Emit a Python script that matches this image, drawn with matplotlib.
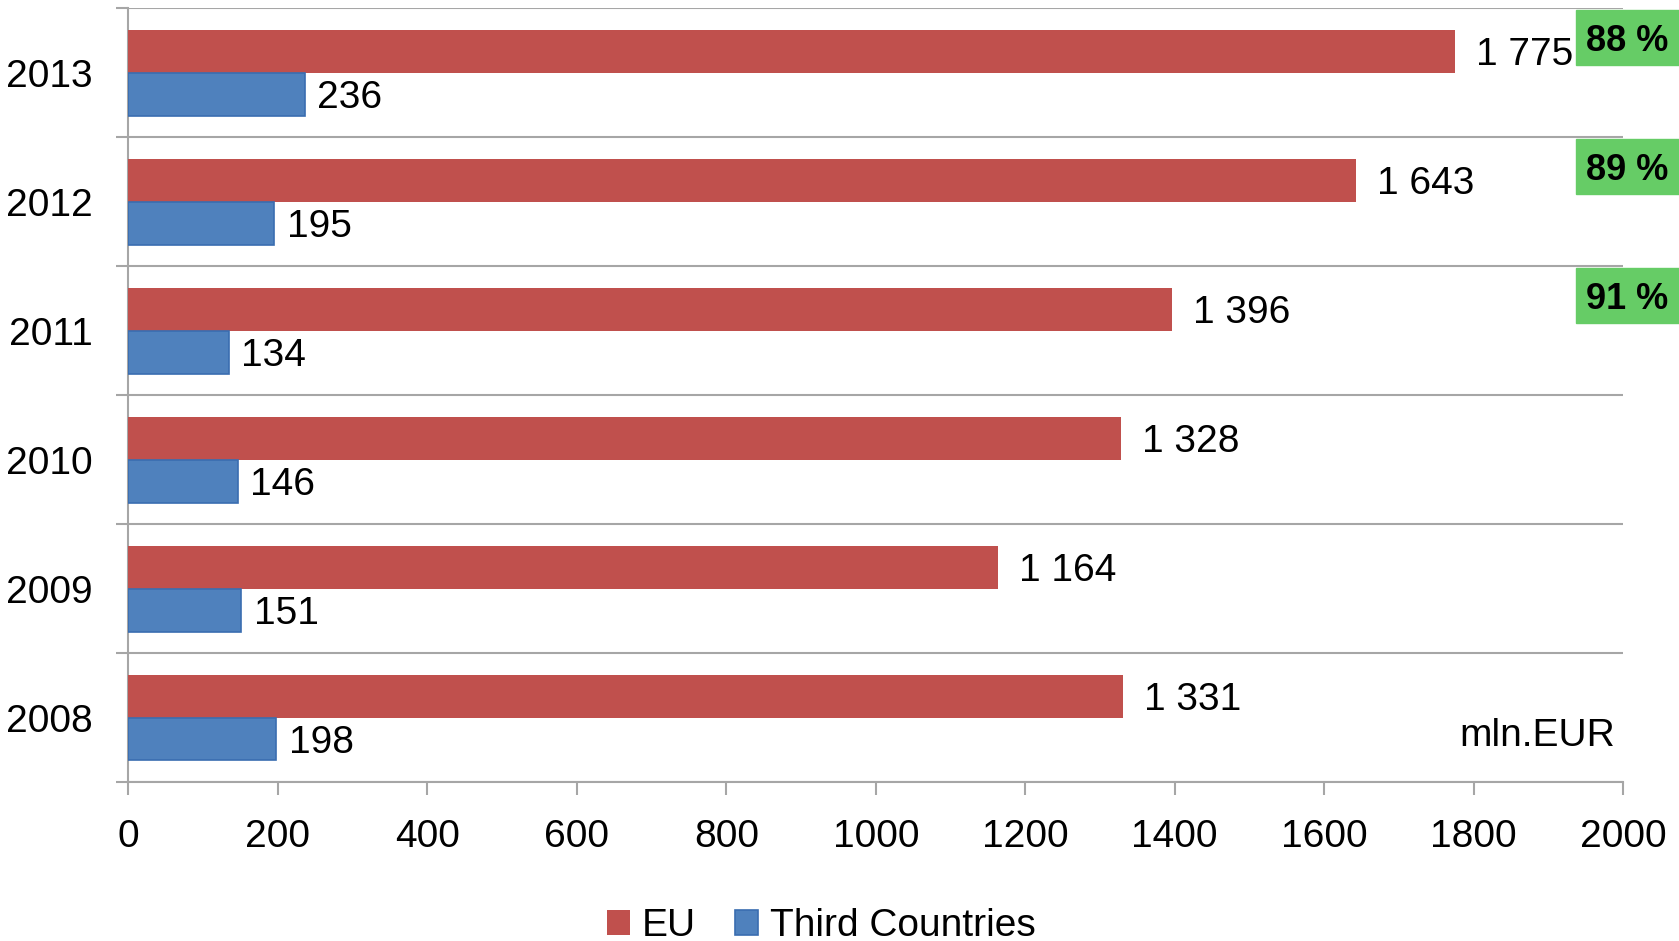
import matplotlib
matplotlib.use('Agg')
import matplotlib.pyplot as plt
from matplotlib import font_manager
from matplotlib.patches import Rectangle

# dados do gráfico
anos = ['2008', '2009', '2010', '2011', '2012', '2013']
eu = [1331, 1164, 1328, 1396, 1643, 1775]
terceiros = [198, 151, 146, 134, 195, 236]
# parcela da UE nos três últimos anos (de cima para baixo: 2013, 2012, 2011)
parcela_anos = ['2013', '2012', '2011']
parcela_txt = ['88 %', '89 %', '91 %']
x_ticks = [0, 200, 400, 600, 800, 1000, 1200, 1400, 1600, 1800, 2000]

nomes = {f.name for f in font_manager.fontManager.ttflist}
fonte = 'Liberation Sans Narrow' if 'Liberation Sans Narrow' in nomes else 'Liberation Sans'
plt.rcParams['font.family'] = [fonte, 'DejaVu Sans']

COR_EU = '#C0504D'
COR_TC = '#4F81BD'
CINZA = '#A6A6A6'
FS = 28

fig = plt.figure(figsize=(16.79, 9.41), dpi=100)
ax = fig.add_axes([0.0765, 0.169, 0.8902, 0.822])

pos = list(range(len(anos)))
h = 1 / 3
ax.barh([p + h / 2 for p in pos], eu, height=h, color=COR_EU, label='EU', zorder=3)
ax.barh([p - h / 2 for p in pos], terceiros, height=h, color=COR_TC,
        edgecolor='#3A6DB0', linewidth=1.2, label='Third Countries', zorder=3)

def fmt(v):
    return f'{v:,}'.replace(',', ' ')

for p, v in zip(pos, eu):
    ax.annotate(fmt(v), (v, p + h / 2), xytext=(15, 0), textcoords='offset points',
                va='center_baseline', ha='left', fontsize=FS)
for p, v in zip(pos, terceiros):
    ax.annotate(fmt(v), (v, p - h / 2), xytext=(9, 0), textcoords='offset points',
                va='center_baseline', ha='left', fontsize=FS)

ax.set_xlim(0, 2000)
ax.set_ylim(-0.5, len(anos) - 0.5)
ax.set_xticks(x_ticks)
ax.set_xticklabels([str(t) for t in x_ticks], fontsize=FS)
ax.set_yticks(pos)
ax.set_yticklabels(anos, fontsize=FS)
ax.set_yticks([p - 0.5 for p in range(len(anos) + 1)], minor=True)
ax.tick_params(axis='y', which='major', length=0, pad=26)
ax.tick_params(axis='y', which='minor', length=9, width=1.5, color=CINZA)
ax.tick_params(axis='x', length=9, width=1.5, color=CINZA, pad=18)
ax.grid(axis='y', which='minor', color=CINZA, linewidth=1.5, zorder=0)
for lado in ['top', 'right']:
    ax.spines[lado].set_visible(False)
for lado in ['left', 'bottom']:
    ax.spines[lado].set_color(CINZA)
    ax.spines[lado].set_linewidth(1.5)

ax.text(0.9947, 0.0595, 'mln.EUR', transform=ax.transAxes, ha='right', va='center',
        fontsize=FS)

# caixas verdes com a parcela
for ano, txt in zip(parcela_anos, parcela_txt):
    i = anos.index(ano)
    _, y_top = fig.transFigure.inverted().transform(ax.transData.transform((0, i + 0.5)))
    alt = 55 / 941
    y0 = y_top - 2 / 941 - alt
    fig.patches.append(Rectangle((1576 / 1679, y0), 103 / 1679, alt,
                                 transform=fig.transFigure, color='#66CC66', zorder=5))
    fig.text(1627 / 1679, y0 + alt / 2, txt, ha='center', va='center_baseline',
             fontsize=FS - 2, fontweight='bold', zorder=6)

fig.legend(loc='center', bbox_to_anchor=(0.489, 0.016), ncol=2, frameon=False,
           fontsize=FS, handlelength=0.6, handleheight=0.6, handletextpad=0.3,
           columnspacing=1.0, borderaxespad=0, borderpad=0)

plt.savefig('out.png', dpi=100)
plt.close()
